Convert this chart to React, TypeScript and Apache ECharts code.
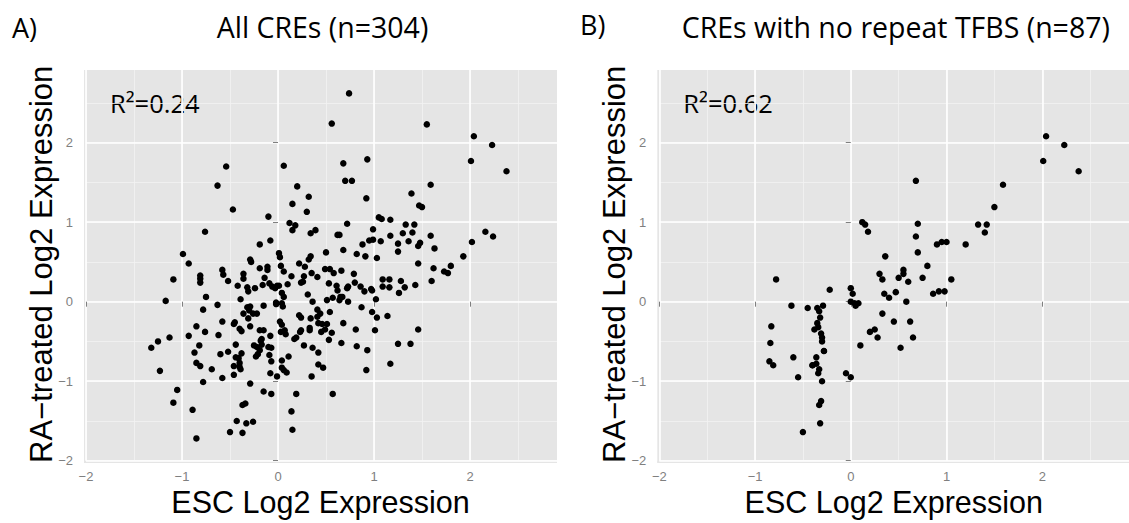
import React, { useEffect, useRef } from 'react';
import * as echarts from 'echarts';

// Panel A: all CREs (ESC log2 expression, RA-treated log2 expression)
const allX = [
  -0.54, 0.06, -0.63, 0.20, 0.32, 0.15, -0.47, 0.30, -0.10, 0.12, 0.18, 0.15, -0.76, 0.39, 0.34, -0.08, -0.19, 0.01, -0.99, 0.02, -0.29, 0.34, 0.32,
  0.74, 0.56, 1.55, 2.04, 2.23, 2.01, 2.38, 0.68, 0.93, 0.70, 0.77, 1.59, 0.92, 1.39, 1.47, 1.50, 1.05, 1.08, 1.17, 0.72, 1.33, 1.42, 0.99, 0.62, 0.64, 1.30, 1.40, 1.59, 2.16, 2.24, 1.17, 0.99, 0.95, 1.07, 0.88, 1.36, 1.48, 1.25, 1.46, 2.02, 0.68, 1.63, 1.25, 0.50, 0.82, 0.91, 1.03, 1.93,
  1.46, 1.62, 1.73, 1.77, 1.80, 1.60, 1.43, 1.28, 1.32, 1.26, 1.16, 1.09, 1.09, 1.16, 1.02, 0.97, 0.98, 0.90, 0.86, 0.80, 0.79, 0.66, 0.73, 0.72, 0.61, 0.62, 0.65, 0.67, 0.73, 0.64, 0.57, 0.53, 0.58, 0.54, 0.49, 0.51, 0.87, 0.98, 1.03, 1.14, 1.01, 1.46, 0.81, 0.68, 0.54, 0.56, 0.53, 0.66, 0.82, 0.93, 1.25, 1.38, 1.17, 0.92, 0.57, 0.47, 0.45, 0.49, 0.46, 0.51, 0.44,
  -0.93, -1.09, -1.17, -1.32, -1.25, -1.13, -1.23, -1.05, -1.09, -0.89, -0.85, -0.81, -0.81, -0.81, -0.75, -0.78, -0.63, -0.58, -0.57, -0.52, -0.58, -0.62, -0.85, -0.93, -0.76, -0.82, -0.87, -0.85, -0.81, -0.69, -0.60, -0.52, -0.58, -0.78, -0.46, -0.46, -0.44, -0.44, -0.38, -0.40, -0.40, -0.39, -0.41, -0.46, -0.45, -0.40, -0.38, -0.42, -0.36, -0.36, -0.39, -0.32, -0.31, -0.28, -0.24, -0.19, -0.11, -0.11, -0.14, -0.09, -0.16, -0.03, -0.01, 0.01, -0.06, 0.04, 0.06, 0.03, 0.06, 0.14, 0.10, 0.22, 0.28, 0.27, 0.35, 0.24, 0.26, 0.41, 0.31, 0.36, 0.41, -0.02, -0.02, 0.04, 0.05, -0.15, -0.29, -0.32, -0.30, -0.26, -0.36, -0.31, -0.22, -0.29, -0.19, -0.15, -0.08, -0.25, -0.22, -0.23, -0.21, -0.18, -0.17, -0.19, -0.17, -0.10, -0.07, -0.09, -0.07, -0.08, -0.01, 0.04, 0.06, 0.09, 0.04, 0.11, 0.02, 0.04, 0.03, 0.08, 0.07, 0.17, 0.19, 0.23, 0.24, 0.27, 0.22, 0.24, 0.33, 0.33, 0.34, 0.41, 0.42, 0.36, 0.42, 0.42, 0.35, 0.19, 0.14, 0.15, -0.15, -0.07, -0.29, -0.37, -0.34, -0.43, -0.33, -0.26, -0.50, -0.37,
];
const allY = [
  1.70, 1.71, 1.46, 1.45, 1.32, 1.23, 1.16, 1.13, 1.07, 0.99, 0.96, 0.90, 0.88, 0.90, 0.86, 0.77, 0.72, 0.61, 0.60, 0.56, 0.53, 0.57, 0.53,
  2.62, 2.24, 2.23, 2.08, 1.97, 1.77, 1.64, 1.74, 1.79, 1.52, 1.52, 1.47, 1.30, 1.36, 1.21, 1.19, 1.06, 1.04, 1.03, 0.98, 0.97, 0.97, 0.91, 0.84, 0.84, 0.86, 0.87, 0.83, 0.88, 0.82, 0.83, 0.78, 0.77, 0.76, 0.72, 0.76, 0.74, 0.73, 0.70, 0.75, 0.65, 0.67, 0.63, 0.62, 0.60, 0.57, 0.55, 0.57,
  0.48, 0.42, 0.38, 0.36, 0.45, 0.26, 0.21, 0.26, 0.18, 0.11, 0.28, 0.28, 0.19, 0.18, 0.03, 0.16, 0.14, 0.13, 0.19, 0.24, 0.35, 0.39, 0.19, 0.17, 0.20, 0.14, 0.06, 0.06, 0.00, 0.02, 0.05, 0.23, 0.36, 0.41, 0.41, 0.02, -0.07, -0.13, -0.20, -0.18, -0.36, -0.35, -0.35, -0.27, -0.13, -0.39, -0.48, -0.52, -0.56, -0.61, -0.53, -0.53, -0.78, -0.86, -1.16, -0.83, -0.38, -0.35, -0.28, -0.28, -0.15,
  0.48, 0.28, 0.01, -0.58, -0.50, -0.45, -0.87, -1.11, -1.27, -1.36, -1.72, 0.33, 0.29, 0.24, 0.06, -0.10, -0.04, 0.40, 0.34, 0.26, -0.25, -0.42, -0.31, -0.43, -0.38, -0.55, -0.64, -0.77, -0.81, -0.85, -0.66, -0.63, -0.96, -1.01, -0.92, -0.81, -0.70, -0.54, -0.65, -0.77, -0.82, -0.85, -0.71, -0.28, -0.26, -0.34, -0.37, 0.20, 0.35, 0.29, 0.03, 0.18, 0.13, 0.50, 0.17, 0.42, 0.44, 0.40, 0.30, 0.23, 0.21, 0.17, 0.20, 0.20, 0.19, 0.11, 0.06, 0.45, 0.38, 0.32, 0.22, 0.48, 0.44, 0.32, 0.36, 0.24, 0.25, 0.31, 0.09, 0.00, -0.10, -0.01, -0.03, -0.02, -0.06, -0.05, -0.06, -0.07, -0.11, -0.15, -0.15, -0.21, -0.15, -0.31, -0.36, -0.36, -0.43, -0.55, -0.57, -0.69, -0.66, -0.49, -0.54, -0.61, -0.47, -0.57, -0.58, -0.67, -0.75, -0.90, -0.94, -0.83, -0.86, -0.89, -0.74, -0.69, -0.25, -0.29, -0.38, -0.41, -0.36, -0.47, -0.45, -0.38, -0.36, -0.55, -0.17, -0.20, -0.33, -0.36, -0.21, -0.19, -0.27, -0.58, -0.64, -0.79, -0.94, -1.16, -1.38, -1.61, -1.13, -1.16, -1.03, -1.30, -1.28, -1.50, -1.53, -1.51, -1.64, -1.65,
];

// Panel B: CREs with no repeat TFBS
const subX = [
  2.04, 2.23, 2.01, 2.38, 1.59, 1.50, 1.42, 1.40, 1.33, 1.20, 1.05, 1.00, 0.95, 0.90, 0.92, 0.86, 0.80, 0.75, 0.70, 0.70, 0.68, 0.62, 0.65, 0.58, 0.60, 0.55, 0.50, 0.45,
  0.40, 0.35, 0.33, 0.30, 0.28, 0.33, 0.25, 0.20, 0.18, 0.15, 0.12, 0.05, 0.04, 0.02, 0.00, 0.00, -0.05, 0.00, -0.22,
  -0.28, -0.30, -0.32, -0.33, -0.35, -0.35, -0.36, -0.38, -0.33, -0.40, -0.30, -0.31, -0.33, -0.32, -0.50, -0.45, -0.55, -0.62,
  -0.78, -0.83, -0.84, -0.85, -0.81, -0.30, -0.28, -0.36, -0.40, -0.34, 0.10, 0.47, 0.55,
  0.36, 0.68, 0.98, 0.08, -0.34, -0.31, 0.52, -0.60, -0.29,
];
const subY = [
  2.08, 1.97, 1.77, 1.64, 1.47, 1.19, 0.97, 0.87, 0.97, 0.72, 0.28, 0.75, 0.75, 0.72, 0.13, 0.10, 0.45, 0.30, 0.98, 0.62, 1.52, -0.25, -0.45, 0.00, 0.25, 0.35, 0.30, -0.25,
  0.05, 0.10, 0.28, 0.35, -0.45, -0.15, -0.35, -0.38, 0.88, 0.97, 1.00, -0.05, -0.02, 0.10, 0.00, 0.17, -0.90, -0.95, 0.15,
  -0.62, -0.50, -0.20, -0.12, -0.08, -0.27, -0.70, -0.35, -0.85, -0.80, -1.00, -1.25, -1.30, -1.53, -1.64, -0.08, -0.95, -0.05,
  0.28, -0.31, -0.52, -0.75, -0.80, -0.45, -0.62, -0.78, -0.80, -0.90, -0.55, 0.12, 0.40,
  0.57, 0.82, 0.13, -0.02, -0.32, -0.40, -0.58, -0.70, -0.05,
];

const xTicks = [-2, -1, 0, 1, 2];
const yTicks = [-2, -1, 0, 1, 2];
const X_MIN = -2;
const X_MAX = 2.906;
const Y_MIN = -2;
const Y_MAX = 2.914;

const titles = ['All CREs (n=304)', 'CREs with no repeat TFBS (n=87)'];
const panelTags = ['A)', 'B)'];
const r2Labels = ['R\u00b2=0.24', 'R\u00b2=0.62'];
const xTitle = 'ESC Log2 Expression';
const yTitle = 'RA\u2212treated Log2 Expression';

const fmt = (v: number) => (v < 0 ? '\u2212' + Math.abs(v) : String(v));

export default function App() {
  const ref = useRef<HTMLDivElement>(null);
  useEffect(() => {
    const chart = echarts.init(ref.current!, null, { renderer: 'svg' });
    const gridLefts = [86, 659.3];
    const gridTop = 70;
    const gridW = 471;
    const gridH = 390.7;
    const tickFont = { color: '#7f7f7f', fontSize: 13, fontFamily: 'Liberation Sans, Arial, sans-serif' };

    const xAxes: any[] = [];
    const yAxes: any[] = [];
    gridLefts.forEach((_, g) => {
      xAxes.push({
        type: 'value', gridIndex: g, min: X_MIN, max: X_MAX, interval: 1, position: 'bottom', z: 2,
        axisLine: { show: false },
        axisTick: { show: true, length: 5, customValues: xTicks, lineStyle: { color: '#7f7f7f', width: 1 } },
        axisLabel: { ...tickFont, margin: 9, customValues: xTicks, formatter: fmt },
        splitLine: { show: true, lineStyle: { color: '#ffffff', width: 1.6 } },
      });
      xAxes.push({
        type: 'value', gridIndex: g, min: X_MIN, max: X_MAX, interval: 0.5, position: 'top', z: 1,
        axisLine: { show: false }, axisTick: { show: false }, axisLabel: { show: false },
        splitLine: { show: true, showMaxLine: false, lineStyle: { color: '#f2f2f2', width: 0.8 } },
      });
      yAxes.push({
        type: 'value', gridIndex: g, min: Y_MIN, max: Y_MAX, interval: 1, position: 'left', z: 2,
        axisLine: { show: false },
        axisTick: { show: true, length: 5, customValues: yTicks, lineStyle: { color: '#7f7f7f', width: 1 } },
        axisLabel: { ...tickFont, margin: 13, customValues: yTicks, formatter: fmt },
        splitLine: { show: true, lineStyle: { color: '#ffffff', width: 1.6 } },
      });
      yAxes.push({
        type: 'value', gridIndex: g, min: Y_MIN, max: Y_MAX, interval: 0.5, position: 'right', z: 1,
        axisLine: { show: false }, axisTick: { show: false }, axisLabel: { show: false },
        splitLine: { show: true, showMaxLine: false, lineStyle: { color: '#f2f2f2', width: 0.8 } },
      });
    });

    const datasets = [
      allX.map((x, i) => [x, allY[i]]),
      subX.map((x, i) => [x, subY[i]]),
    ];

    const graphics: any[] = [];
    gridLefts.forEach((gl, g) => {
      const panelCx = gl - 2 + (gridW + 2) / 2;
      graphics.push({ type: 'rect', z: -1, shape: { x: gl - 2, y: gridTop, width: 2, height: gridH + 2.3 }, style: { fill: '#e5e5e5' } });
      graphics.push({ type: 'rect', z: -1, shape: { x: gl - 2, y: gridTop + gridH, width: gridW + 2, height: 2.3 }, style: { fill: '#e5e5e5' } });
      graphics.push({
        type: 'text', x: g === 0 ? 12 : 580, y: g === 0 ? 27 : 24,
        style: { text: panelTags[g], fontSize: 27, fontFamily: 'Open Sans, sans-serif', fill: '#000', align: 'left', verticalAlign: 'middle' },
      });
      graphics.push({
        type: 'text', x: panelCx + 2, y: 27,
        style: { text: titles[g], fontSize: 28.5, fontFamily: 'Open Sans, sans-serif', fill: '#000', align: 'center', verticalAlign: 'middle' },
      });
      graphics.push({
        type: 'text', x: gl + 24, y: 103,
        style: { text: r2Labels[g], fontSize: 25.5, fontFamily: 'Open Sans, sans-serif', fill: '#000', align: 'left', verticalAlign: 'middle' },
      });
      graphics.push({
        type: 'text', x: panelCx, y: 502,
        style: { text: xTitle, fontSize: 30.5, fontFamily: 'Liberation Sans, Arial, sans-serif', fill: '#000', align: 'center', verticalAlign: 'middle' },
      });
      graphics.push({
        type: 'text', x: gl - 45, y: gridTop + gridH / 2 - 1, rotation: Math.PI / 2,
        style: { text: yTitle, fontSize: 31, fontFamily: 'Liberation Sans, Arial, sans-serif', fill: '#000', align: 'center', verticalAlign: 'middle' },
      });
    });

    chart.setOption({
      animation: false,
      backgroundColor: '#ffffff',
      grid: gridLefts.map((gl) => ({
        left: gl, top: gridTop, width: gridW, height: gridH,
        show: true, backgroundColor: '#e5e5e5', borderWidth: 0, containLabel: false,
      })),
      xAxis: xAxes,
      yAxis: yAxes,
      series: datasets.map((d, g) => ({
        type: 'scatter', xAxisIndex: g * 2, yAxisIndex: g * 2, data: d,
        symbol: 'circle', symbolSize: 6.5, itemStyle: { color: '#000000', opacity: 1 }, z: 5,
      })),
      graphic: graphics,
    });
    return () => chart.dispose();
  }, []);
  return <div ref={ref} style={{ position: 'fixed', left: 0, top: 0, width: 1129, height: 523 }} />;
}
